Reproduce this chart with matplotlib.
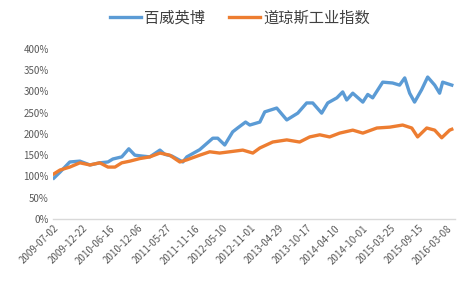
import matplotlib
matplotlib.use("Agg")
import matplotlib.pyplot as plt
from matplotlib.ticker import FuncFormatter

plt.rcParams['font.family'] = ['Noto Sans CJK SC', 'DejaVu Sans']

# trading-day index -> cumulative value (%)
bud_idx = [0, 26, 68, 111, 154, 196, 231, 252, 290, 320, 346, 376, 410, 453, 474, 504, 551,
           568, 623, 679, 700, 730, 764, 785, 819, 837, 880, 901, 952, 995, 1042, 1080, 1106,
           1144, 1170, 1209, 1234, 1251, 1277, 1320, 1341, 1362, 1405, 1447, 1477, 1499, 1520,
           1541, 1571, 1597, 1627, 1648, 1661, 1700]
bud_val = [96, 110, 134, 136, 127, 132, 134, 141, 146, 165, 150, 148, 146, 162, 152, 148, 134,
           146, 163, 190, 190, 174, 205, 214, 228, 221, 228, 252, 261, 233, 249, 273, 273,
           249, 273, 285, 299, 280, 296, 275, 293, 285, 322, 320, 315, 332, 296,
           275, 304, 334, 315, 296, 322, 315]

dow_idx = [0, 26, 68, 111, 154, 196, 231, 261, 290, 325, 367, 410, 453, 495, 538, 568, 623,
           666, 708, 751, 807, 850, 880, 935, 995, 1050, 1093, 1136, 1178, 1221, 1277, 1320,
           1380, 1435, 1490, 1529, 1554, 1593, 1627, 1657, 1691, 1700]
dow_val = [106, 115, 122, 132, 127, 132, 122, 122, 132, 136, 142, 146, 155, 150, 134, 139, 150,
           158, 155, 158, 162, 155, 167, 181, 186, 181, 193, 198, 193, 202, 209, 202,
           214, 216, 221, 214, 193, 214, 209, 191, 209, 211]

tick_pos = [0, 120, 240, 360, 480, 600, 720, 840, 960, 1080, 1200, 1320, 1440, 1560, 1680]
tick_labels = ['2009-07-02', '2009-12-22', '2010-06-16', '2010-12-06', '2011-05-27',
               '2011-11-16', '2012-05-10', '2012-11-01', '2013-04-29', '2013-10-17',
               '2014-04-10', '2014-10-01', '2015-03-25', '2015-09-15', '2016-03-08']
y_ticks = [0, 50, 100, 150, 200, 250, 300, 350, 400]

fig = plt.figure(figsize=(4.77, 2.85), dpi=100)
ax = fig.add_axes([0.111, 0.232, 0.843, 0.596])

ax.plot(bud_idx, bud_val, color='#5B9BD5', lw=2.4, label='百威英博', solid_joinstyle='round')
ax.plot(dow_idx, dow_val, color='#ED7D31', lw=2.4, label='道琼斯工业指数', solid_joinstyle='round')

ax.set_xlim(-4, 1714)
ax.set_ylim(0, 400)
ax.set_yticks(y_ticks)
ax.yaxis.set_major_formatter(FuncFormatter(lambda v, p: f'{int(v)}%'))
ax.set_xticks(tick_pos)
ax.set_xticklabels(tick_labels, rotation=45, ha='right', va='top', rotation_mode='anchor')
ax.tick_params(axis='both', length=0, labelsize=7, colors='#595959', pad=3)
for s in ['top', 'right', 'left']:
    ax.spines[s].set_visible(False)
ax.spines['bottom'].set_color('#D9D9D9')
ax.spines['bottom'].set_linewidth(1.0)

fig.legend(loc='upper center', bbox_to_anchor=(0.503, 1.015), ncol=2, frameon=False,
           fontsize=11, handlelength=2.0, handletextpad=0.2, columnspacing=1.6,
           labelcolor='#404040')

fig.savefig('out.png', dpi=100, facecolor='white')
